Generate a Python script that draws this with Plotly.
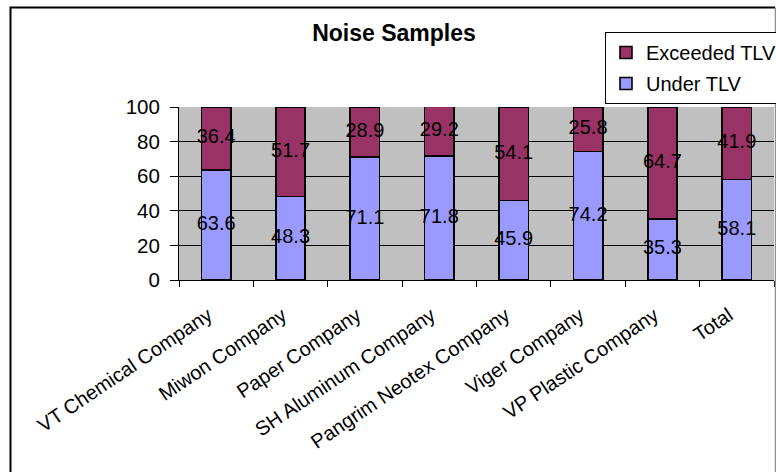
import plotly.graph_objects as go

# Noise sample share per site, percent of samples
categories = [
    "VT Chemical Company",
    "Miwon Company",
    "Paper Company",
    "SH Aluminum Company",
    "Pangrim Neotex Company",
    "Viger Company",
    "VP Plastic Company",
    "Total",
]
under_tlv = [63.6, 48.3, 71.1, 71.8, 45.9, 74.2, 35.3, 58.1]
exceeded_tlv = [36.4, 51.7, 28.9, 29.2, 54.1, 25.8, 64.7, 41.9]
y_ticks = [0, 20, 40, 60, 80, 100]

FONT = "Liberation Sans, Arial, sans-serif"
W, H = 776, 472
L, R, T, B = 179, 2, 107, 192
pw, ph = W - L - R, H - T - B


def px_x(x):
    return (x - L) / pw


def px_y(y):
    return (H - B - y) / ph


fig = go.Figure()

series = [
    ("Under TLV", under_tlv, "#9999FF", "u", 2),
    ("Exceeded TLV", exceeded_tlv, "#993366", "e", 1),
]

for name, vals, color, grp, rank in series:
    fig.add_trace(go.Bar(
        x=categories,
        y=vals,
        name=name,
        legendgroup=grp,
        legendrank=rank,
        marker=dict(color=color, line=dict(color="black", width=1.6)),
        cliponaxis=False,
        hoverinfo="skip",
    ))

# value labels centred in each stacked segment
base = [0.0] * len(categories)
for name, vals, color, grp, rank in series:
    mids = [b + v / 2 for b, v in zip(base, vals)]
    fig.add_trace(go.Scatter(
        x=categories,
        y=mids,
        mode="text",
        text=[f"{v:.1f}" for v in vals],
        textposition="middle center",
        textfont=dict(family=FONT, size=20, color="black"),
        cliponaxis=False,
        showlegend=False,
        hoverinfo="skip",
    ))
    base = [b + v for b, v in zip(base, vals)]

fig.update_layout(
    width=W,
    height=H,
    barmode="stack",
    bargap=0.606,
    margin=dict(l=L, r=R, t=T, b=B, autoexpand=False),
    paper_bgcolor="white",
    plot_bgcolor="#C0C0C0",
    font=dict(family=FONT, size=20, color="black"),
    title=dict(
        text="<b>Noise Samples</b>",
        font=dict(family=FONT, size=23, color="black"),
        xref="paper", x=px_x(394), xanchor="center",
        yref="container", y=1 - 33 / H, yanchor="middle",
    ),
    legend=dict(
        x=px_x(605), y=px_y(32), xanchor="left", yanchor="top",
        bgcolor="white", bordercolor="black", borderwidth=1,
        font=dict(family=FONT, size=20, color="black"),
        traceorder="grouped",
        tracegroupgap=2,
    ),
    xaxis=dict(
        type="category",
        tickangle=-34,
        ticks="outside", ticklen=6, tickcolor="black",
        tickson="boundaries",
        showline=True, linecolor="black", linewidth=1,
        showgrid=False,
        ticklabelstandoff=15,
        ticklabelshift=-8,
        tickfont=dict(family=FONT, size=20, color="black"),
    ),
    yaxis=dict(
        range=[0, 100],
        tickvals=y_ticks,
        ticks="outside", ticklen=8, tickcolor="black",
        showline=True, linecolor="black", linewidth=1,
        showgrid=True, gridcolor="black", gridwidth=1,
        zeroline=False,
        ticklabelstandoff=6,
        tickfont=dict(family=FONT, size=20.5, color="black"),
    ),
    shapes=[
        # chart frame: left and top edges
        dict(type="path", xref="paper", yref="paper",
             path=f"M {px_x(10.5)} {px_y(480)} L {px_x(10.5)} {px_y(7.5)} L {px_x(775)} {px_y(7.5)}",
             line=dict(color="black", width=2), layer="above"),
        dict(type="line", xref="paper", yref="paper",
             x0=px_x(775.5), x1=px_x(775.5), y0=px_y(7.5), y1=px_y(480),
             line=dict(color="#909090", width=1.5), layer="above"),
    ],
)

fig.write_html("out.html")
